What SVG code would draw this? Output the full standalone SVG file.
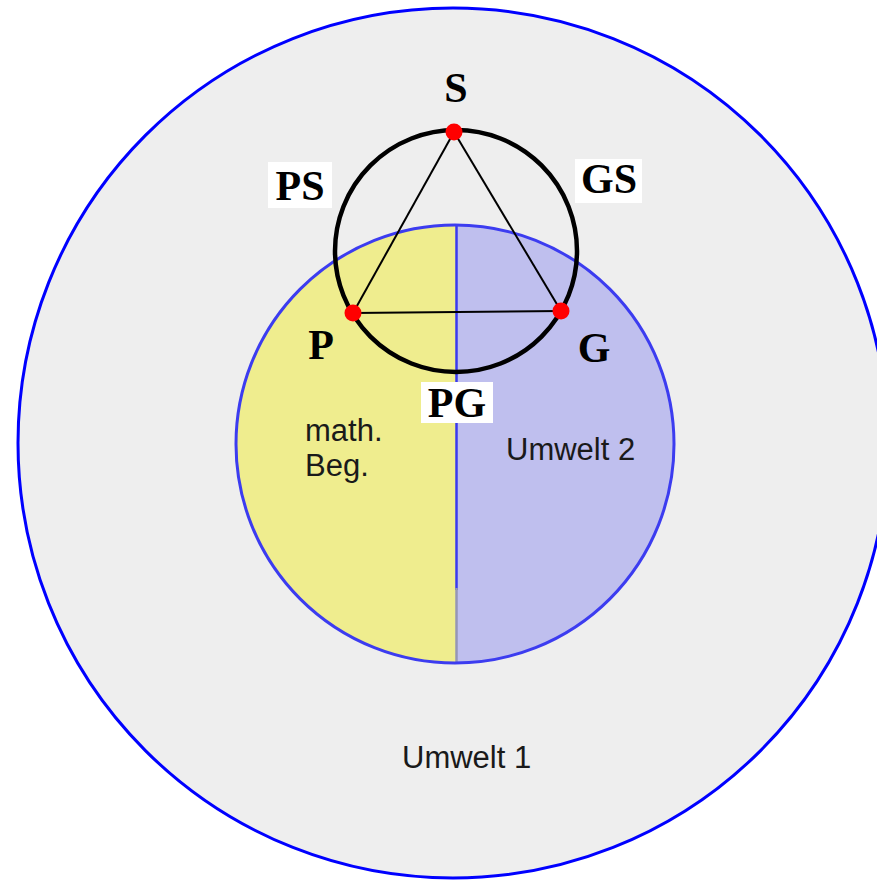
<svg xmlns="http://www.w3.org/2000/svg" width="877" height="881" viewBox="0 0 877 881">
<style>
.lbl{font-family:"Liberation Serif","Times New Roman",serif;font-weight:bold;font-size:42px;fill:#000}
.txt{font-family:"Liberation Sans",Arial,sans-serif;font-size:31px;fill:#1a1a1a}
.box{fill:#fff}
.pt{fill:#ff0000}
.edge{stroke:#000;stroke-width:2;fill:none}
</style>
<defs>
<clipPath id="inner"><circle cx="455" cy="444" r="219"/></clipPath>
</defs>
<rect width="877" height="881" fill="#fff"/>
<g id="umwelt1">
<circle cx="453" cy="443" r="435" fill="#eeeeee" stroke="#0000ff" stroke-width="3"/>
<text class="txt" x="402" y="768">Umwelt 1</text>
</g>
<g id="inner-circle">
<g clip-path="url(#inner)">
<rect x="230" y="220" width="226" height="450" fill="#efed8e"/>
<rect x="456" y="220" width="226" height="450" fill="#bfbfee"/>
</g>
<line x1="456.5" y1="226" x2="456.5" y2="590" stroke="#3a3aee" stroke-width="2.5"/>
<line x1="456.5" y1="588" x2="456.5" y2="662" stroke="#9696b4" stroke-width="2.5"/>
<circle cx="455" cy="444" r="219" fill="none" stroke="#3c3cf0" stroke-width="3"/>
<text class="txt" x="305" y="441">math.</text>
<text class="txt" x="305" y="476">Beg.</text>
<text class="txt" x="506" y="460">Umwelt 2</text>
</g>
<g id="triangle-circle">
<circle cx="456" cy="251" r="121" fill="none" stroke="#000" stroke-width="4.5"/>
</g>
<g id="connectors">
<line class="edge" x1="454" y1="132" x2="353" y2="313"/>
<line class="edge" x1="454" y1="132" x2="561" y2="311"/>
<line class="edge" x1="353" y1="313" x2="561" y2="311"/>
</g>
<g id="node-S">
<circle class="pt" cx="454" cy="132" r="8.5"/>
<text class="lbl" x="456" y="102" text-anchor="middle">S</text>
</g>
<g id="node-P">
<circle class="pt" cx="353" cy="313" r="8.5"/>
<text class="lbl" x="321" y="359" text-anchor="middle">P</text>
</g>
<g id="node-G">
<circle class="pt" cx="561" cy="311" r="8.5"/>
<text class="lbl" x="594" y="362" text-anchor="middle">G</text>
</g>
<g id="label-PS">
<rect class="box" x="268" y="162" width="64" height="46"/>
<text class="lbl" x="300" y="200" text-anchor="middle">PS</text>
</g>
<g id="label-GS">
<rect class="box" x="575" y="159" width="67" height="44"/>
<text class="lbl" x="609" y="193" text-anchor="middle">GS</text>
</g>
<g id="label-PG">
<rect class="box" x="421" y="382" width="72" height="41"/>
<text class="lbl" x="457" y="417" text-anchor="middle">PG</text>
</g>
</svg>
